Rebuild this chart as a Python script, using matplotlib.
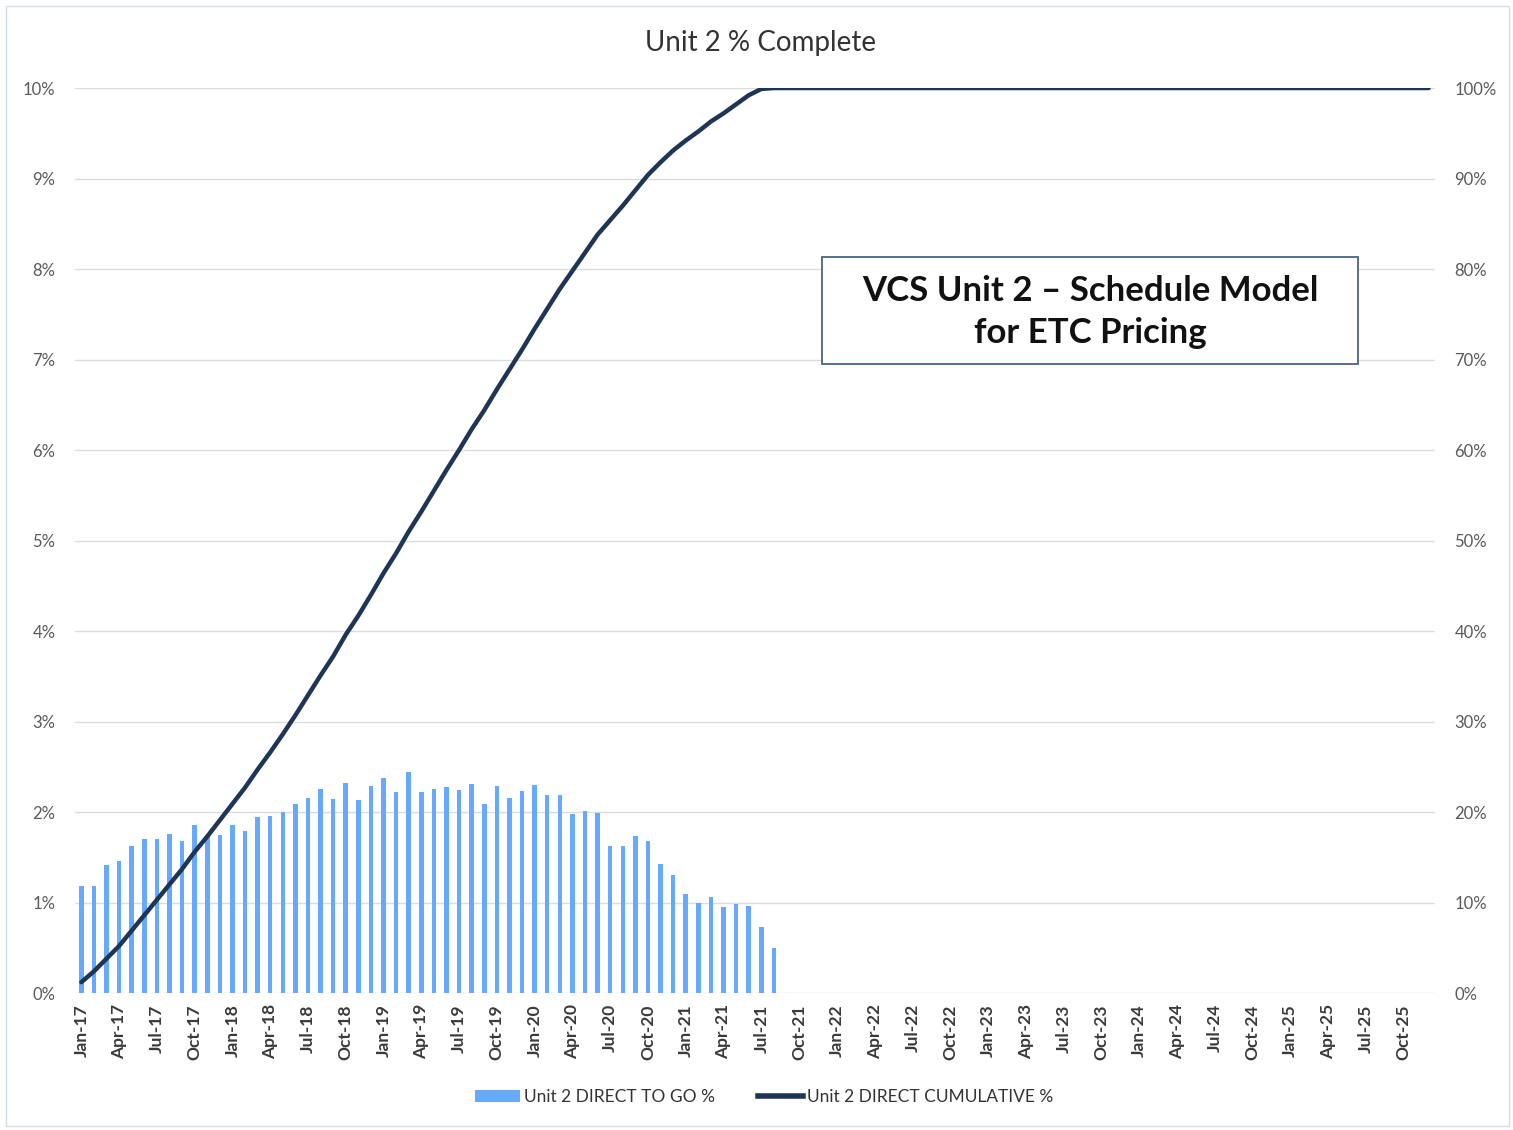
import numpy as np
import matplotlib
matplotlib.use("Agg")
import matplotlib.pyplot as plt
from matplotlib.patches import Rectangle, Patch
from matplotlib.lines import Line2D

plt.rcParams['font.family'] = ['Lato', 'DejaVu Sans']

# monthly labels Jan-17 .. Dec-25
months = ['Jan', 'Feb', 'Mar', 'Apr', 'May', 'Jun', 'Jul', 'Aug', 'Sep', 'Oct', 'Nov', 'Dec']
years = ['17', '18', '19', '20', '21', '22', '23', '24', '25']
month_labels = [f"{m}-{y}" for y in years for m in months]

# monthly direct "to go" % (Jan-17 .. Aug-21)
to_go = [1.18, 1.18, 1.42, 1.46, 1.62, 1.70, 1.70, 1.76, 1.68, 1.86, 1.75, 1.75,
         1.86, 1.79, 1.94, 1.96, 2.00, 2.09, 2.15, 2.25, 2.14, 2.32, 2.13, 2.29,
         2.38, 2.22, 2.44, 2.22, 2.26, 2.28, 2.24, 2.31, 2.09, 2.29, 2.16, 2.23,
         2.30, 2.19, 2.19, 1.98, 2.01, 1.99, 1.62, 1.62, 1.73, 1.68, 1.43, 1.30,
         1.09, 1.00, 1.06, 0.95, 0.98, 0.96, 0.73, 0.50]

# cumulative % (Jan-17 .. Aug-21), then flat at 100 through Dec-25
cumulative = [1.2, 2.4, 3.8, 5.2, 6.9, 8.6, 10.3, 12.0, 13.7, 15.6, 17.3, 19.1,
              20.9, 22.7, 24.7, 26.6, 28.6, 30.7, 32.9, 35.1, 37.2, 39.6, 41.7, 44.0,
              46.4, 48.6, 51.0, 53.2, 55.5, 57.8, 60.0, 62.3, 64.4, 66.7, 68.9, 71.1,
              73.4, 75.6, 77.8, 79.8, 81.8, 83.8, 85.4, 87.0, 88.7, 90.4, 91.8, 93.1,
              94.2, 95.2, 96.3, 97.2, 98.2, 99.2, 99.9, 100.0]
cumulative = cumulative + [100.0] * (len(month_labels) - len(cumulative))

bar_color = '#66aaff'
line_color = '#1f3556'

fig = plt.figure(figsize=(15.13, 11.30), dpi=100)
ax = fig.add_axes([0.0496, 0.1212, 0.8988, 0.8009])
ax2 = ax.twinx()

x_bar = np.arange(len(to_go))
x_all = np.arange(len(month_labels))

ax.bar(x_bar, to_go, width=0.36, color=bar_color, zorder=2)
ax2.plot(x_all, cumulative, color=line_color, lw=3.2, solid_capstyle='round', zorder=3)

ax.set_xlim(-0.5, len(month_labels) - 0.5)
ax.set_ylim(0, 10)
ax2.set_ylim(0, 100)

ax.set_yticks(range(0, 11))
ax.set_yticklabels([f"{v}%" for v in range(0, 11)])
ax2.set_yticks(range(0, 101, 10))
ax2.set_yticklabels([f"{v}%" for v in range(0, 101, 10)])

ax.set_xticks(x_all[::3])
ax.set_xticklabels(month_labels[::3], rotation=90, fontsize=12.5,
                   fontweight='bold', color='#3a3a3a')

ax.grid(axis='y', color='#dcdcdc', lw=1, zorder=0)
ax.set_axisbelow(True)
for a in (ax, ax2):
    for s in a.spines.values():
        s.set_visible(False)
    a.tick_params(length=0)
ax.tick_params(axis='y', labelsize=12, labelcolor='#5a5a5a', pad=14)
ax2.tick_params(axis='y', labelsize=12, labelcolor='#5a5a5a', pad=14)
ax.tick_params(axis='x', pad=8)

fig.text(0.503, 0.962, 'Unit 2 % Complete', ha='center', va='center',
         fontsize=20, color='#333333')

# annotation box
fig.patches.append(Rectangle((822 / 1513, 1 - 364 / 1130), 536 / 1513, 107 / 1130,
                             transform=fig.transFigure, fill=True, facecolor='white',
                             edgecolor='#4a6584', lw=1.3, zorder=5))
fig.text(1090 / 1513, 1 - 312 / 1130, 'VCS Unit 2 \u2013 Schedule Model\nfor ETC Pricing',
         ha='center', va='center', fontsize=25, fontweight='bold', color='#111111',
         linespacing=1.35, zorder=6)

# outer frame
fig.patches.append(Rectangle((6 / 1513, 4 / 1130), 1503 / 1513, 1120 / 1130,
                             transform=fig.transFigure, fill=False,
                             edgecolor='#d3dde6', lw=1))

handles = [Patch(facecolor=bar_color, edgecolor='none'),
           Line2D([0], [0], color=line_color, lw=4)]
fig.legend(handles, ['Unit 2 DIRECT TO GO %', 'Unit 2 DIRECT CUMULATIVE %'],
           loc='center', bbox_to_anchor=(0.505, 0.029), ncol=2, frameon=False,
           fontsize=12.5, handlelength=2.6, handletextpad=0.2, columnspacing=2.5,
           labelcolor='#333333')

fig.savefig('out.png', dpi=100)
